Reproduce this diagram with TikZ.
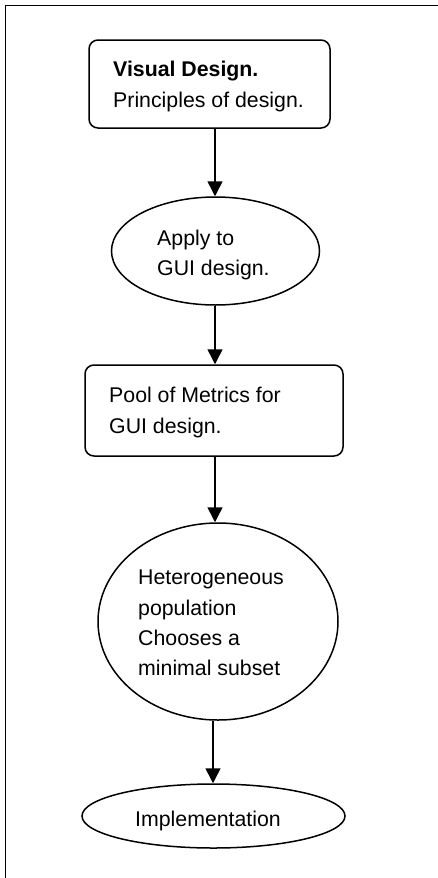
\documentclass[tikz,border=0pt]{standalone}
\usepackage{fontspec}
\setmainfont{Liberation Sans}
\usetikzlibrary{shapes.geometric,arrows.meta}

\tikzset{
  shapeline/.style={draw=black, line width=1.5pt, inner sep=0pt},
  roundbox/.style={shapeline, rectangle, rounded corners=9pt},
  oval/.style={shapeline, ellipse},
  label text/.style={anchor=west, align=left, inner sep=0pt,
    font=\fontsize{21.3}{30.3}\selectfont},
  flow/.style={line width=1.5pt, -{Triangle[length=15pt,width=15pt]}},
}

\begin{document}
\begin{tikzpicture}[x=1pt, y=-1pt]
  \useasboundingbox (0,0) rectangle (438,878);
  \clip (0,0) rectangle (438,878);

  % outer frame (only its top and left sides fall on the page)
  \draw[line width=1.7pt] (5.5,5.5) rectangle (460,900);

  % shapes
  \node[roundbox, minimum width=241pt, minimum height=88pt] (design) at (209.5,84) {};
  \node[oval, minimum width=208pt, minimum height=108pt] (apply) at (215.5,251) {};
  \node[roundbox, minimum width=258pt, minimum height=91pt] (pool) at (214,410.5) {};
  \node[oval, minimum width=240pt, minimum height=197pt] (subset) at (218,621.5) {};
  \node[oval, minimum width=263pt, minimum height=64pt] (impl) at (213.5,816) {};

  % texts
  \node[label text] (designtxt) at (113,86.5) {\textbf{Visual Design.}\\Principles of design.};
  \node[label text] (applytxt) at (157,255) {Apply to\\GUI design.};
  \node[label text] (pooltxt) at (109,412.5) {Pool of Metrics for\\GUI design.};
  \node[label text] (subsettxt) at (138,623) {Heterogeneous\\population\\Chooses a\\minimal subset};
  \node[label text] (impltxt) at (135,820.5) {Implementation};

  % connector columns
  \coordinate (colA) at (215,0);
  \coordinate (colB) at (213,0);

  % connectors
  \draw[flow] (design.south -| colA) -- (apply.north -| colA);
  \draw[flow] (apply.south -| colA) -- (pool.north -| colA);
  \draw[flow] (pool.south -| colA) -- (subset.north -| colA);
  \draw[flow] (subset.south -| colB) -- (impl.north -| colB);
\end{tikzpicture}
\end{document}
